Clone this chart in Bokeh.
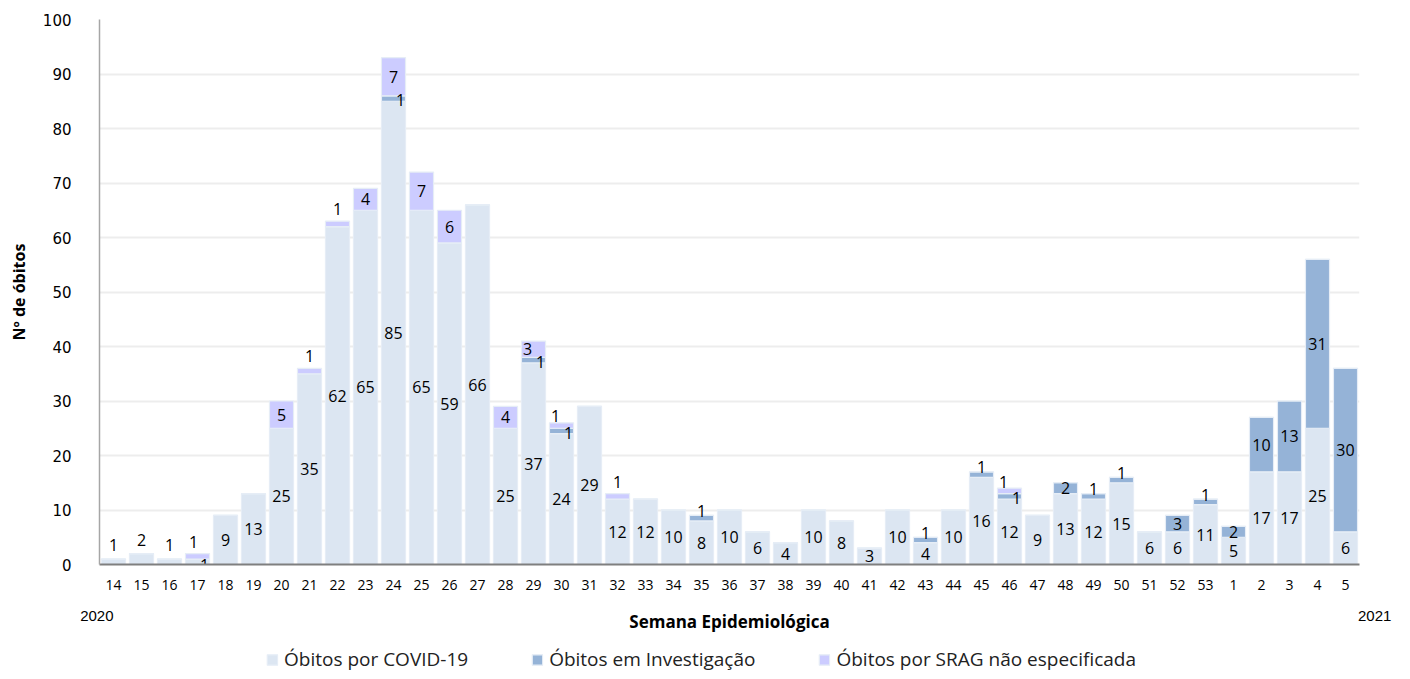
from bokeh.plotting import figure
from bokeh.layouts import column
from bokeh.models import (ColumnDataSource, FactorRange, Legend, LegendItem, Range1d,
                          CategoricalAxis, CustomJSTickFormatter)
from bokeh.core.properties import value
from bokeh.embed import file_html
from bokeh.resources import INLINE

weeks = [str(w) for w in range(14, 54)] + ["1", "2", "3", "4", "5"]
covid = [1, 2, 1, 1, 9, 13, 25, 35, 62, 65,
         85, 65, 59, 66, 25, 37, 24, 29, 12, 12,
         10, 8, 10, 6, 4, 10, 8, 3, 10, 4,
         10, 16, 12, 9, 13, 12, 15, 6, 6, 11,
         5, 17, 17, 25, 6]
inv_map = {"24": 1, "29": 1, "30": 1, "35": 1, "43": 1, "45": 1, "46": 1, "48": 2,
           "49": 1, "50": 1, "52": 3, "53": 1, "1": 2, "2": 10, "3": 13, "4": 31, "5": 30}
srag_map = {"17": 1, "20": 5, "21": 1, "22": 1, "23": 4, "24": 7, "25": 7, "26": 6,
            "28": 4, "29": 3, "30": 1, "32": 1, "46": 1}
investigacao = [inv_map.get(w, 0) for w in weeks]
srag = [srag_map.get(w, 0) for w in weeks]
years = ["2020", "2021"]

series = ["covid", "inv", "srag"]
names = ["Óbitos por COVID-19", "Óbitos em Investigação", "Óbitos por SRAG não especificada"]
colors = ["#DCE6F2", "#95B3D7", "#CCCCFF"]

src = ColumnDataSource(dict(weeks=weeks, covid=covid, inv=investigacao, srag=srag))

FONT = "Open Sans"

p = figure(x_range=FactorRange(factors=weeks, range_padding=0), y_range=Range1d(0, 100),
           frame_width=1260, frame_height=545, output_backend="svg", toolbar_location=None,
           min_border_left=99, min_border_right=35, min_border_top=19, min_border_bottom=0)
p.outline_line_color = None
p.background_fill_color = "white"

p.vbar_stack(series, x="weeks", width=0.86, color=colors, line_color="#E6EDF6",
             line_width=1.2, source=src)

# data labels
lx, ly, lt, ldx = [], [], [], []
for w, c, v, s in zip(weeks, covid, investigacao, srag):
    if c >= 3:
        lx.append(w); ly.append(c / 2); lt.append(str(c)); ldx.append(0)
    elif v + s > 0:
        lx.append(w); ly.append(c / 2 - 0.5); lt.append(str(c)); ldx.append(7)
    else:
        lx.append(w); ly.append(c + 2.5); lt.append(str(c)); ldx.append(0)
    if v > 0:
        if v >= 2:
            lx.append(w); ly.append(c + v / 2); lt.append(str(v)); ldx.append(0)
        elif s > 0:
            lx.append(w); ly.append(c + 0.2); lt.append(str(v)); ldx.append(7)
        else:
            lx.append(w); ly.append(c + v + 0.8); lt.append(str(v)); ldx.append(0)
    if s > 0:
        top = c + v + s
        if s >= 2:
            lx.append(w); ly.append(c + v + s / 2); lt.append(str(s)); ldx.append(-6 if v > 0 and s < 4 else 0)
        elif v > 0:
            lx.append(w); ly.append(top + 1.2); lt.append(str(s)); ldx.append(-6)
        else:
            lx.append(w); ly.append(top + 2.2); lt.append(str(s)); ldx.append(-4 if c <= 2 else 0)

lsrc = ColumnDataSource(dict(x=lx, y=ly, t=lt, dx=ldx))
p.text(x="x", y="y", text="t", x_offset="dx", source=lsrc, text_align="center",
       text_baseline="middle", text_font=value(FONT), text_font_size="16px", text_color="black")

# axes
p.xgrid.grid_line_color = None
p.ygrid.grid_line_color = "#EDEDED"
p.ygrid.grid_line_width = 2
p.yaxis.ticker = list(range(0, 101, 10))
p.yaxis.axis_line_color = "#A6A6A6"
p.yaxis.axis_line_width = 1.5
p.yaxis.major_tick_line_color = None
p.yaxis.minor_tick_line_color = None
p.yaxis.major_label_standoff = 22
p.yaxis.major_label_text_font = "DejaVu Sans"
p.yaxis.major_label_text_font_size = "15px"
p.yaxis.major_label_text_color = "black"
p.yaxis.axis_label = "Nº de óbitos"
p.yaxis.axis_label_text_font = FONT
p.yaxis.axis_label_text_font_style = "bold"
p.yaxis.axis_label_text_font_size = "16px"
p.yaxis.axis_label_text_color = "black"
p.yaxis.axis_label_standoff = 10

p.xaxis.axis_line_color = "#7F7F7F"
p.xaxis.axis_line_width = 2
p.xaxis.major_tick_line_color = None
p.xaxis.minor_tick_line_color = None
p.xaxis.major_tick_out = 0
p.xaxis.major_label_standoff = 15
p.xaxis.major_label_text_font = FONT
p.xaxis.major_label_text_font_size = "14px"
p.xaxis.major_label_text_color = "black"

# year labels + axis title on a second axis row (same categorical range)
fmt = CustomJSTickFormatter(
    args=dict(first=weeks[0], last=weeks[-1], y0=years[0] + "\u00a0" * 8,
              y1="\u00a0" * 14 + years[1]),
    code="return tick == first ? y0 : (tick == last ? y1 : '');")
yax = CategoricalAxis(axis_line_color=None, major_tick_line_color=None, minor_tick_line_color=None,
                      major_tick_out=0, major_tick_in=0, minor_tick_out=0, formatter=fmt,
                      major_label_standoff=14, major_label_text_font="Liberation Sans",
                      major_label_text_font_size="15px", major_label_text_color="black",
                      axis_label="Semana Epidemiológica", axis_label_text_font=FONT,
                      axis_label_text_font_style="bold", axis_label_text_font_size="17px",
                      axis_label_text_color="black", axis_label_standoff=-17)
p.add_layout(yax, "below")

# legend strip: a small figure whose bars lie outside its view, carrying the legend
p2 = figure(x_range=FactorRange(factors=weeks, range_padding=0), y_range=Range1d(500, 600),
            width=1394, height=42, output_backend="svg", toolbar_location=None,
            x_axis_location=None, y_axis_location=None,
            min_border_left=0, min_border_right=92, min_border_top=0, min_border_bottom=0)
p2.outline_line_color = None
p2.xgrid.grid_line_color = None
p2.ygrid.grid_line_color = None
rs2 = p2.vbar_stack(series, x="weeks", width=0.86, color=colors, line_color="#E6EDF6",
                    line_width=1.2, source=src)
legend = Legend(items=[LegendItem(label=n, renderers=[r]) for n, r in zip(names, rs2)],
                orientation="horizontal", location="top", border_line_color=None,
                background_fill_alpha=0, label_text_font=FONT, label_text_font_size="19px",
                label_text_color="#222222",
                glyph_width=13, glyph_height=13, label_standoff=6, spacing=62,
                padding=0, margin=11)
p2.add_layout(legend)

layout = column(p, p2, spacing=0)
open("out.html", "w").write(file_html(layout, INLINE))
